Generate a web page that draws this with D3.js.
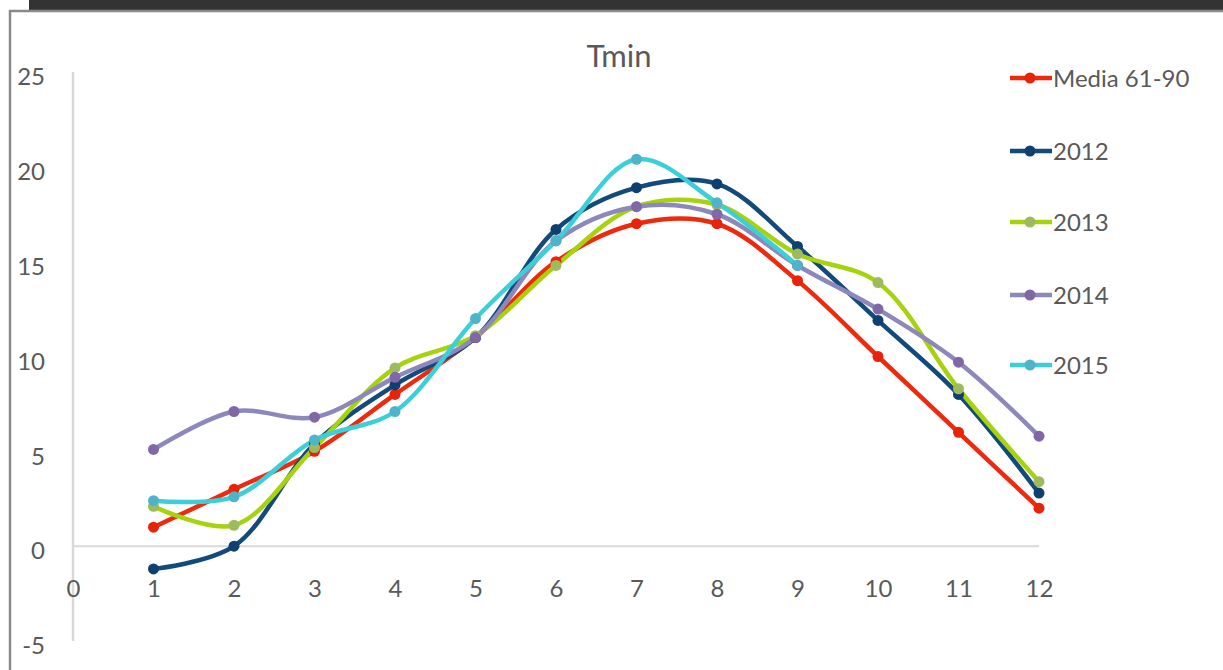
<html>
  <head>
    <meta charset="utf-8">
    <title>Tmin</title>
    <script src="https://cdn.jsdelivr.net/npm/d3@7/dist/d3.min.js"></script>
    <style>
      body { margin: 0; background: #fff; }
      text { font-family: Lato, "Open Sans", sans-serif; fill: #595959; }
    </style>
  </head>
  <body>
    <svg></svg>
    <script>
      'use strict';

      // months on the x axis
      let months = [1, 2, 3, 4, 5, 6, 7, 8, 9, 10, 11, 12];
      let xTicks = [0, 1, 2, 3, 4, 5, 6, 7, 8, 9, 10, 11, 12];
      let yTicks = [-5, 0, 5, 10, 15, 20, 25];

      // series values
      let media6190 = [1.0, 3.0, 5.0, 8.0, 11.0, 15.0, 17.0, 17.0, 14.0, 10.0, 6.0, 2.0];
      let y2012 = [-1.2, 0.0, 5.4, 8.5, 11.0, 16.7, 18.9, 19.1, 15.8, 11.9, 8.0, 2.8];
      let y2013 = [2.1, 1.1, 5.2, 9.4, 11.1, 14.8, 17.9, 18.0, 15.4, 13.9, 8.3, 3.4];
      let y2014 = [5.1, 7.1, 6.8, 8.9, 11.0, 16.1, 17.9, 17.5, 14.8, 12.5, 9.7, 5.8];
      let y2015 = [2.4, 2.6, 5.6, 7.1, 12.0, 16.1, 20.4, 18.1, 14.8];

      let seriesNames = ['Media 61-90', '2012', '2013', '2014', '2015'];
      let seriesValues = [media6190, y2012, y2013, y2014, y2015];
      let lineColors = ['#ee2a0e', '#124a7c', '#a6d20e', '#8c88bb', '#3dcfd9'];
      let markerColors = ['#e8230a', '#0f3f6e', '#9dbb5c', '#8068a8', '#4fb4ca'];

      let w = 1223, h = 670;
      let svg = d3.select('svg').attr('width', w).attr('height', h);

      // frame: dark strip on top and grey border
      svg.append('rect').attr('x', 29).attr('y', 0).attr('width', w - 29).attr('height', 10).attr('fill', '#333');
      svg.append('path').attr('d', 'M10,' + h + 'V11H' + w)
        .attr('fill', 'none').attr('stroke', '#8a8a8a').attr('stroke-width', 2.5);

      let x = d3.scaleLinear().domain([0, 12]).range([73, 1039]);
      let y = d3.scaleLinear().domain([-5, 25]).range([641, 72]);

      // vertical axis line and zero line
      svg.append('line').attr('x1', x(0)).attr('x2', x(0)).attr('y1', y(25)).attr('y2', y(-5))
        .attr('stroke', '#d9d9d9').attr('stroke-width', 2.5);
      svg.append('line').attr('x1', x(0)).attr('x2', x(12)).attr('y1', y(0)).attr('y2', y(0))
        .attr('stroke', '#d9d9d9').attr('stroke-width', 2);

      // y labels (plain hyphen for the minus sign, like the original)
      let yAxis = svg.append('g').attr('transform', 'translate(45,5)')
        .call(d3.axisLeft(y).tickValues(yTicks).tickSize(0).tickPadding(0)
          .tickFormat(function (d) { return String(d); }));
      yAxis.select('.domain').remove();
      yAxis.selectAll('text').style('font-size', '24px').attr('fill', '#595959');

      // x labels, sitting just under the zero line
      let xAxis = svg.append('g').attr('transform', 'translate(0,' + (y(0) + 34) + ')')
        .call(d3.axisBottom(x).tickValues(xTicks).tickSize(0).tickPadding(0));
      xAxis.select('.domain').remove();
      xAxis.selectAll('text').style('font-size', '24px').attr('fill', '#595959');

      // title
      svg.append('text').attr('x', 619).attr('y', 67).attr('text-anchor', 'middle')
        .style('font-size', '31px').text('Tmin');

      let line = d3.line()
        .x(function (d, i) { return x(months[i]); })
        .y(function (d) { return y(d); })
        .curve(d3.curveCatmullRom.alpha(0.5));

      seriesValues.forEach(function (vals, k) {
        svg.append('path').datum(vals)
          .attr('d', line)
          .attr('fill', 'none')
          .attr('stroke', lineColors[k])
          .attr('stroke-width', 4.5)
          .attr('stroke-linejoin', 'round');
      });
      seriesValues.forEach(function (vals, k) {
        svg.append('g').selectAll('circle').data(vals).enter().append('circle')
          .attr('cx', function (d, i) { return x(months[i]); })
          .attr('cy', function (d) { return y(d); })
          .attr('r', 5.5)
          .attr('fill', markerColors[k]);
      });

      // legend
      let legendY = [78, 151, 222, 295, 365];
      let legend = svg.append('g').selectAll('g').data(seriesNames).enter().append('g')
        .attr('transform', function (d, i) { return 'translate(1010,' + legendY[i] + ')'; });
      legend.append('line').attr('x1', 0).attr('x2', 42).attr('y1', 0).attr('y2', 0)
        .attr('stroke', function (d, i) { return lineColors[i]; }).attr('stroke-width', 4.5);
      legend.append('circle').attr('cx', 20).attr('cy', 0).attr('r', 5.5)
        .attr('fill', function (d, i) { return markerColors[i]; });
      legend.append('text').attr('x', 43).attr('y', 9).style('font-size', '24px')
        .text(function (d) { return d; });
    </script>
  </body>
</html>
